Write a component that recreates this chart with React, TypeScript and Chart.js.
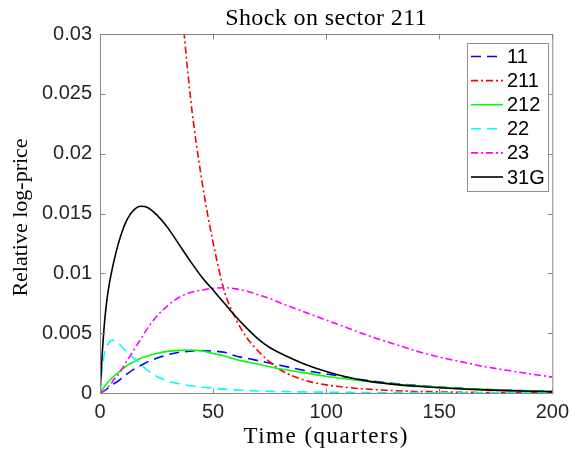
import React, { useEffect, useRef } from "react";
import { Chart, registerables } from "chart.js";

Chart.register(...registerables);

// ---- data ----
const T = [0, 1, 2, 3, 4, 5, 6, 8, 10, 12, 15, 18, 21, 25, 30, 35, 40, 45, 50, 55, 60, 65, 70, 75, 80, 90, 100, 110, 120, 130, 140, 150, 160, 170, 180, 190, 200];

const S_11 = [0, 0.0001, 0.0002, 0.00033, 0.00047, 0.0006, 0.00075, 0.001, 0.0013, 0.0016, 0.002, 0.0023, 0.0026, 0.0029, 0.0032, 0.0034, 0.0035, 0.00355, 0.0035, 0.0034, 0.0031, 0.0029, 0.0027, 0.0025, 0.0023, 0.0019, 0.0016, 0.0013, 0.001, 0.0008, 0.00063, 0.0005, 0.00039, 0.0003, 0.00023, 0.00018, 0.00014];

const S_211 = [null, null, null, null, null, null, null, null, null, null, null, null, null, 0.069, 0.049, 0.035, 0.0247, 0.0178, 0.0126, 0.0085, 0.0062, 0.0046, 0.0035, 0.0026, 0.0019, 0.0011, 0.00068, 0.00045, 0.0003, 0.0002, 0.00013, 0.00009, 0.00006, 0.00004, 0.00003, 0.00002, 0.00001];

const S_212 = [0, 0.0003, 0.00055, 0.0008, 0.001, 0.0012, 0.00138, 0.0017, 0.002, 0.0023, 0.0026, 0.0029, 0.0031, 0.0033, 0.00348, 0.00356, 0.00358, 0.00352, 0.0033, 0.0031, 0.0028, 0.0026, 0.0024, 0.0022, 0.002, 0.0017, 0.0014, 0.00115, 0.00093, 0.00075, 0.0006, 0.00047, 0.00037, 0.0003, 0.00023, 0.00018, 0.00014];

const S_22 = [0, 0.0022, 0.0033, 0.0039, 0.0042, 0.0044, 0.0044, 0.0042, 0.0038, 0.0034, 0.0029, 0.0024, 0.0019, 0.0014, 0.001, 0.00077, 0.0006, 0.00048, 0.0004, 0.00032, 0.00026, 0.00021, 0.00017, 0.00014, 0.00012, 0.00009, 0.00007, 0.00005, 0.00004, 0.00003, 0.00003, 0.00002, 0.00002, 0.00001, 0.00001, 0.00001, 0.00001];

const S_23 = [0, 0.0001, 0.0002, 0.0004, 0.0006, 0.0008, 0.0011, 0.0015, 0.0021, 0.0027, 0.0036, 0.0045, 0.0054, 0.0064, 0.0073, 0.008, 0.0084, 0.0086, 0.00875, 0.0088, 0.0087, 0.0085, 0.0082, 0.0079, 0.0075, 0.0068, 0.0061, 0.0054, 0.0047, 0.0041, 0.0035, 0.003, 0.0026, 0.0022, 0.0019, 0.0016, 0.00133];

const S_31G = [0, 0.0033, 0.0059, 0.0077, 0.009, 0.01, 0.0109, 0.0124, 0.0136, 0.0145, 0.0153, 0.0156, 0.0155, 0.0149, 0.0138, 0.0124, 0.011, 0.0097, 0.0086, 0.0075, 0.0064, 0.0054, 0.0045, 0.0038, 0.0033, 0.00245, 0.0018, 0.0013, 0.00095, 0.00072, 0.00056, 0.00044, 0.00034, 0.00026, 0.0002, 0.00015, 0.00011];

const SERIES_LABELS = ["11", "211", "212", "22", "23", "31G"];
const SERIES_VALUES = [S_11, S_211, S_212, S_22, S_23, S_31G];
const SERIES_COLORS = ["#0000ff", "#ff0000", "#00ff00", "#00ffff", "#ff00ff", "#000000"];
const SERIES_DASHES: number[][] = [[10, 6], [7, 3, 2, 3], [], [10, 6], [7, 3, 2, 3], []];

const X_TICKS = [0, 50, 100, 150, 200];
const X_TICK_LABELS = ["0", "50", "100", "150", "200"];
const Y_TICKS = [0, 0.005, 0.01, 0.015, 0.02, 0.025, 0.03];
const Y_TICK_LABELS = ["0", "0.005", "0.01", "0.015", "0.02", "0.025", "0.03"];

const TITLE = "Shock on sector 211";
const X_LABEL = "Time (quarters)";
const Y_LABEL = "Relative log-price";

// ---- styles ----
const AXIS_COLOR = "#858585";
const TICK_TEXT = "#262626";
const SANS = '"Liberation Sans", Arial, sans-serif';
const SERIF = '"Liberation Serif", "Times New Roman", serif';

const framePlugin = {
  id: "frame",
  afterDatasetsDraw(chart: any) {
    const { ctx, chartArea } = chart;
    const { left, right, top, bottom } = chartArea;
    const xs = chart.scales.x;
    const ys = chart.scales.y;
    ctx.save();
    ctx.strokeStyle = AXIS_COLOR;
    ctx.lineWidth = 1;
    ctx.setLineDash([]);
    ctx.strokeRect(left + 0.5, top + 0.5, right - left, bottom - top);
    const tl = 5;
    ctx.beginPath();
    X_TICKS.forEach((v) => {
      const px = Math.round(xs.getPixelForValue(v)) + 0.5;
      ctx.moveTo(px, bottom + 0.5);
      ctx.lineTo(px, bottom + 0.5 - tl);
      ctx.moveTo(px, top + 0.5);
      ctx.lineTo(px, top + 0.5 + tl);
    });
    Y_TICKS.forEach((v) => {
      const py = Math.round(ys.getPixelForValue(v)) + 0.5;
      ctx.moveTo(left + 0.5, py);
      ctx.lineTo(left + 0.5 + tl, py);
      ctx.moveTo(right + 0.5, py);
      ctx.lineTo(right + 0.5 - tl, py);
    });
    ctx.stroke();
    ctx.restore();
  },
  afterDraw(chart: any) {
    const { ctx, chartArea } = chart;
    const { left, right, top, bottom } = chartArea;
    const cx = (left + right) / 2;
    const cy = (top + bottom) / 2;
    ctx.save();
    ctx.fillStyle = "#000000";
    ctx.textAlign = "center";
    ctx.textBaseline = "alphabetic";
    ctx.font = `24px ${SERIF}`;
    (ctx as any).letterSpacing = "0.4px";
    ctx.fillText(TITLE, cx, 25);
    ctx.font = `23px ${SERIF}`;
    (ctx as any).letterSpacing = "1.5px";
    ctx.fillText(X_LABEL, cx, 443);
    (ctx as any).letterSpacing = "0px";
    ctx.save();
    ctx.font = `22px ${SERIF}`;
    ctx.translate(27, cy + 4);
    ctx.rotate(-Math.PI / 2);
    ctx.fillText(Y_LABEL, 0, 0);
    ctx.restore();

    // legend
    const bx = 467.5, by = 43.5, bw = 81, bh = 148;
    ctx.fillStyle = "#ffffff";
    ctx.fillRect(bx, by, bw, bh);
    ctx.strokeStyle = "#8f8f8f";
    ctx.lineWidth = 1;
    ctx.setLineDash([]);
    ctx.strokeRect(bx, by, bw, bh);
    ctx.font = `20px ${SANS}`;
    ctx.textAlign = "left";
    ctx.textBaseline = "middle";
    chart.data.datasets.forEach((ds: any, i: number) => {
      const ry = 56.5 + i * 24.1;
      ctx.strokeStyle = ds.borderColor;
      ctx.lineWidth = ds.borderWidth;
      ctx.setLineDash(ds.borderDash || []);
      ctx.beginPath();
      ctx.moveTo(471, ry);
      ctx.lineTo(503, ry);
      ctx.stroke();
      ctx.fillStyle = "#000000";
      ctx.fillText(ds.label, 507, ry + 1);
    });
    ctx.restore();
  },
};

export default function App() {
  const ref = useRef<HTMLCanvasElement | null>(null);
  useEffect(() => {
    if (!ref.current) return;
    const datasets = SERIES_LABELS.map((label, i) => ({
      label,
      data: T.map((t, j) => ({ x: t, y: SERIES_VALUES[i][j] })),
      borderColor: SERIES_COLORS[i],
      backgroundColor: SERIES_COLORS[i],
      borderWidth: 1.6,
      borderDash: SERIES_DASHES[i],
      pointRadius: 0,
      fill: false,
      cubicInterpolationMode: "monotone" as const,
      order: SERIES_LABELS.length - i,
    }));
    const chart = new Chart(ref.current, {
      type: "line",
      data: { datasets },
      options: {
        animation: false,
        responsive: false,
        devicePixelRatio: 1,
        layout: { padding: { top: 34, right: 20, left: 0, bottom: 0 } },
        plugins: { legend: { display: false }, title: { display: false }, tooltip: { enabled: false } },
        scales: {
          x: {
            type: "linear",
            min: 0,
            max: 200,
            afterBuildTicks: (s: any) => {
              s.ticks = X_TICKS.map((v) => ({ value: v }));
            },
            afterFit: (s: any) => {
              s.height = 59;
            },
            grid: { display: false, drawTicks: false },
            border: { display: false },
            ticks: {
              autoSkip: false,
              maxRotation: 0,
              padding: 7,
              color: TICK_TEXT,
              font: { family: SANS, size: 20 },
              callback: (v: any) => X_TICK_LABELS[X_TICKS.indexOf(Number(v))] ?? "",
            },
          },
          y: {
            type: "linear",
            min: 0,
            max: 0.03,
            afterBuildTicks: (s: any) => {
              s.ticks = Y_TICKS.map((v) => ({ value: v }));
            },
            afterFit: (s: any) => {
              s.width = 100;
            },
            grid: { display: false, drawTicks: false },
            border: { display: false },
            ticks: {
              autoSkip: false,
              padding: 8,
              color: TICK_TEXT,
              font: { family: SANS, size: 20 },
              callback: (v: any) => {
                const k = Y_TICKS.findIndex((t) => Math.abs(t - Number(v)) < 1e-9);
                return k >= 0 ? Y_TICK_LABELS[k] : "";
              },
            },
          },
        },
      },
      plugins: [framePlugin],
    });
    return () => chart.destroy();
  }, []);
  return (
    <div style={{ position: "absolute", left: 0, top: 0, width: 576, height: 452, background: "#ffffff" }}>
      <canvas ref={ref} width={576} height={452} style={{ width: 576, height: 452 }} />
    </div>
  );
}
